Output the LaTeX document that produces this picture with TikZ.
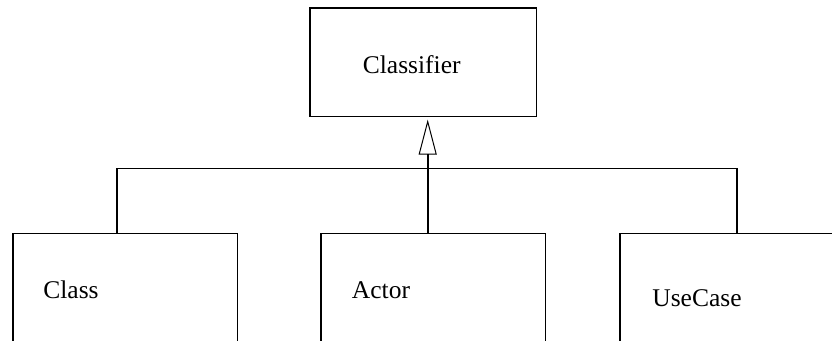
\documentclass[tikz,border=0pt]{standalone}
\usepackage{fontspec}
\setmainfont{Liberation Serif}
\usetikzlibrary{arrows.meta}
\begin{document}
\begin{tikzpicture}[x=1pt,y=-1pt,
  box/.style={draw, line width=1.6pt, rectangle, inner sep=0pt, anchor=north west},
  lbl/.style={inner sep=0pt, font=\fontsize{25.5}{28}\selectfont},
  conn/.style={line width=1.6pt}]
\useasboundingbox (0,0) rectangle (832,340);
\clip (0,0) rectangle (832,340);
\node[box, minimum width=226.7pt, minimum height=108.4pt] (classifier) at (309,7.3) {};
\node[box, minimum width=224.7pt, minimum height=130pt] (class) at (12,232.7) {};
\node[box, minimum width=224.7pt, minimum height=130pt] (actor) at (320,232.7) {};
\node[box, minimum width=240pt, minimum height=130pt] (usecase) at (619.3,232.7) {};
\node[lbl] (tclassifier) at (411.7,65) {Classifier};
\node[lbl] (tclass) at (71,290) {Class};
\node[lbl] (tactor) at (381,290) {Actor};
\node[lbl] (tusecase) at (697,298) {UseCase};
\coordinate (jc) at (427.7,168.3);
\coordinate (lc) at (117,168.3);
\coordinate (rc) at (736.7,168.3);
\draw[conn] (class.north west -| lc) -- (lc) -- (rc) -- (usecase.north west -| rc);
\draw[conn, -{Triangle[open, length=35pt, width=18pt, line width=1pt]}, shorten >=2.3pt]
  (actor.north west -| jc) -- (classifier.south west -| jc);
\end{tikzpicture}
\end{document}
